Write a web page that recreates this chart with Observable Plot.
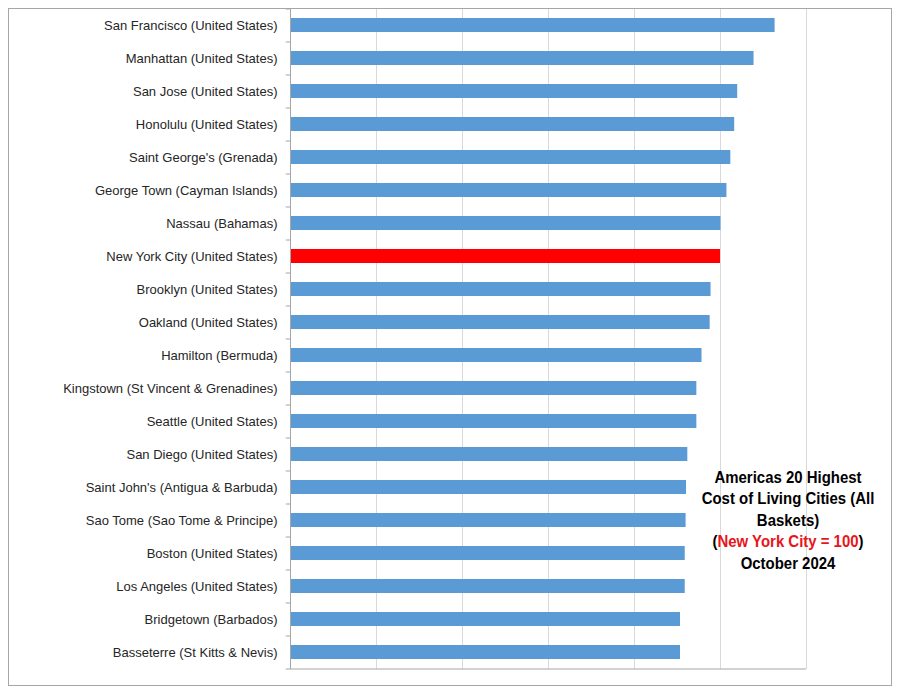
<!DOCTYPE html>
<html>
<head>
<meta charset="utf-8">
<script src="https://cdn.jsdelivr.net/npm/d3@7"></script>
<script src="https://cdn.jsdelivr.net/npm/@observablehq/plot@0.6"></script>
<style>
  html, body { margin: 0; padding: 0; background: #ffffff; }
  #chart { width: 901px; height: 692px; }
</style>
</head>
<body>
<div id="chart"></div>
<script>
const cities = [
  "San Francisco (United States)",
  "Manhattan (United States)",
  "San Jose (United States)",
  "Honolulu (United States)",
  "Saint George's (Grenada)",
  "George Town (Cayman Islands)",
  "Nassau (Bahamas)",
  "New York City (United States)",
  "Brooklyn (United States)",
  "Oakland (United States)",
  "Hamilton (Bermuda)",
  "Kingstown (St Vincent & Grenadines)",
  "Seattle (United States)",
  "San Diego (United States)",
  "Saint John's (Antigua & Barbuda)",
  "Sao Tome (Sao Tome & Principe)",
  "Boston (United States)",
  "Los Angeles (United States)",
  "Bridgetown (Barbados)",
  "Basseterre (St Kitts & Nevis)"
];
const values = [112.7, 107.8, 104.0, 103.3, 102.4, 101.5, 100.1, 100.0, 97.8, 97.6,
                95.7, 94.5, 94.5, 92.4, 92.1, 92.0, 91.8, 91.8, 90.7, 90.7];
const highlightCity = "New York City (United States)";
const gridTicks = [20, 40, 60, 80, 100, 120];
const titleLines = [
  [["Americas 20 Highest", "black"]],
  [["Cost of Living Cities (All", "black"]],
  [["Baskets)", "black"]],
  [["(", "black"], ["New York City = 100", "#e8151b"], [")", "black"]],
  [["October 2024", "black"]]
];

const data = cities.map((c, i) => ({city: c, value: values[i]}));
const step = 660 / cities.length;

const chart = Plot.plot({
  width: 901,
  height: 692,
  marginLeft: 290,
  marginRight: 95,
  marginTop: 9,
  marginBottom: 23,
  style: {fontFamily: "'Liberation Sans', Arial, sans-serif", fontSize: "13px", color: "#262626", background: "white"},
  x: {domain: [0, 120], axis: null},
  y: {domain: cities, paddingInner: 0.57, paddingOuter: 0.285, label: null, axis: null},
  marks: [
    Plot.ruleX(gridTicks, {stroke: "#d9d9d9", strokeWidth: 1}),
    Plot.barX(data, {
      y: "city", x: "value",
      fill: d => d.city === highlightCity ? "#ff0000" : "#5b9bd5"
    }),
    Plot.axisY({tickSize: 0, tickPadding: 13, fontSize: 13, fill: "#262626", label: null}),
    Plot.ruleX([0], {stroke: "#a6a6a6"}),
    Plot.ruleY([cities[cities.length - 1]], {y: d => d, x1: 0, x2: 120, dy: step / 2, stroke: "#a6a6a6"}),
    Plot.ruleY(cities, {y: d => d, x1: -1, x2: 0, dy: -step / 2, stroke: "#a6a6a6"}),
    Plot.ruleY([cities[cities.length - 1]], {y: d => d, x1: -1, x2: 0, dy: step / 2, stroke: "#a6a6a6"})
  ]
});

document.getElementById("chart").appendChild(chart);

const svg = d3.select(chart);
svg.append("rect")
  .attr("x", 8.5).attr("y", 8.5)
  .attr("width", 883).attr("height", 677)
  .attr("fill", "none").attr("stroke", "#a6a6a6");

const t = svg.append("text")
  .attr("text-anchor", "middle")
  .attr("transform", "translate(788,0) scale(0.88,1)")
  .attr("font-family", "'Liberation Sans', Arial, sans-serif")
  .attr("font-weight", "bold")
  .attr("font-size", 17);
titleLines.forEach((parts, i) => {
  const line = t.append("tspan").attr("x", 0).attr("y", 483 + i * 21.5);
  parts.forEach(([txt, col]) => line.append("tspan").attr("fill", col).text(txt));
});
</script>
</body>
</html>
